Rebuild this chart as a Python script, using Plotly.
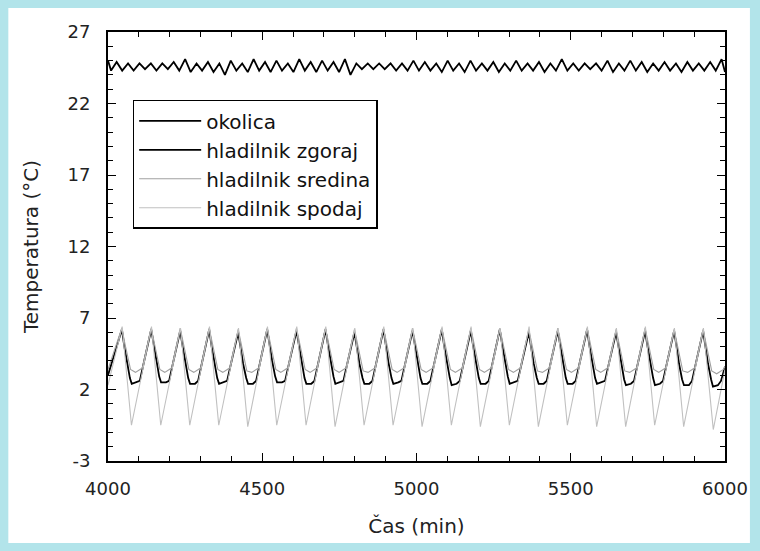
import plotly.graph_objects as go

# ---------------- data ----------------
okolica_t = [4000, 4010, 4028, 4046, 4065, 4083, 4102, 4120, 4139, 4157, 4176, 4194, 4213, 4231, 4250,
             4268, 4287, 4305, 4324, 4342, 4361, 4379, 4398, 4416, 4435, 4453, 4472, 4490, 4509, 4527,
             4546, 4564, 4583, 4601, 4620, 4638, 4657, 4675, 4694, 4712, 4731, 4749, 4768, 4786, 4805,
             4823, 4842, 4860, 4879, 4897, 4916, 4934, 4953, 4971, 4990, 5008, 5027, 5045, 5064, 5082,
             5101, 5119, 5138, 5156, 5175, 5193, 5212, 5230, 5249, 5267, 5286, 5304, 5323, 5341, 5360,
             5378, 5397, 5415, 5434, 5452, 5471, 5489, 5508, 5526, 5545, 5563, 5582, 5600, 5619, 5637,
             5656, 5674, 5693, 5711, 5730, 5748, 5767, 5785, 5804, 5822, 5841, 5859, 5878, 5896, 5915,
             5933, 5952, 5970, 5989, 6000]
okolica_v = [25.0, 24.3, 24.9, 24.3, 24.8, 24.3, 24.8, 24.4, 24.8, 24.3, 24.8, 24.4, 24.9, 24.3, 25.1,
             24.2, 24.8, 24.3, 24.9, 24.2, 24.8, 24.0, 25.0, 24.3, 24.8, 24.2, 25.1, 24.3, 24.9, 24.2,
             25.0, 24.3, 24.8, 24.2, 25.1, 24.3, 24.9, 24.2, 25.0, 24.3, 24.9, 24.2, 25.1, 24.0, 24.8,
             24.4, 24.8, 24.4, 24.8, 24.4, 24.8, 24.3, 24.8, 24.3, 25.0, 24.3, 24.9, 24.3, 24.8, 24.2,
             25.0, 24.3, 24.8, 24.2, 25.0, 24.3, 24.8, 24.3, 24.9, 24.2, 24.8, 24.3, 25.0, 24.3, 24.8,
             24.3, 24.9, 24.2, 24.8, 24.3, 25.1, 24.3, 24.8, 24.3, 24.8, 24.4, 24.8, 24.3, 25.0, 24.2,
             24.8, 24.3, 25.0, 24.3, 24.9, 24.2, 24.8, 24.3, 24.9, 24.3, 24.8, 24.2, 24.9, 24.3, 24.8,
             24.3, 24.9, 24.3, 25.1, 24.2]

# hladilnik zgoraj (black): peak, stepped fall, flat trough, rise
zgoraj_t = [4000, 4045, 4053, 4061, 4071, 4077, 4093, 4103,
            4140, 4148, 4156, 4166, 4172, 4188, 4198,
            4234, 4242, 4250, 4260, 4266, 4282, 4292,
            4328, 4336, 4344, 4354, 4360, 4376, 4386,
            4422, 4430, 4438, 4448, 4454, 4470, 4480,
            4516, 4524, 4532, 4542, 4548, 4564, 4574,
            4611, 4619, 4627, 4637, 4643, 4659, 4669,
            4705, 4713, 4721, 4731, 4737, 4753, 4763,
            4799, 4807, 4815, 4825, 4831, 4847, 4857,
            4893, 4901, 4909, 4919, 4925, 4941, 4951,
            4987, 4995, 5003, 5013, 5019, 5035, 5045,
            5082, 5090, 5098, 5108, 5114, 5130, 5140,
            5176, 5184, 5192, 5202, 5208, 5224, 5234,
            5270, 5278, 5286, 5296, 5302, 5318, 5328,
            5364, 5372, 5380, 5390, 5396, 5412, 5422,
            5458, 5466, 5474, 5484, 5490, 5506, 5516,
            5553, 5561, 5569, 5579, 5585, 5601, 5611,
            5647, 5655, 5663, 5673, 5679, 5695, 5705,
            5741, 5749, 5757, 5767, 5773, 5789, 5799,
            5835, 5843, 5851, 5861, 5867, 5883, 5893,
            5929, 5937, 5945, 5955, 5961, 5977, 5987, 6000]
zgoraj_v = [3.0, 6.2, 5.0, 3.9, 2.8, 2.4, 2.5, 2.6,
            6.2, 5.1, 4.0, 2.9, 2.5, 2.5, 2.6,
            6.1, 5.0, 3.9, 2.8, 2.4, 2.4, 2.6,
            6.2, 5.0, 3.9, 2.8, 2.4, 2.5, 2.6,
            6.0, 4.9, 3.8, 2.8, 2.4, 2.4, 2.6,
            6.2, 5.0, 4.0, 2.9, 2.5, 2.5, 2.6,
            6.1, 5.0, 3.9, 2.8, 2.4, 2.4, 2.6,
            6.2, 5.1, 4.0, 2.9, 2.4, 2.5, 2.6,
            6.0, 4.9, 3.8, 2.8, 2.4, 2.4, 2.6,
            6.2, 5.0, 3.9, 2.8, 2.4, 2.5, 2.6,
            6.1, 5.0, 3.9, 2.8, 2.4, 2.4, 2.6,
            6.2, 5.0, 3.9, 2.8, 2.3, 2.4, 2.6,
            6.1, 5.0, 3.9, 2.8, 2.4, 2.4, 2.6,
            6.2, 5.1, 4.0, 2.9, 2.4, 2.5, 2.6,
            6.0, 4.9, 3.8, 2.8, 2.4, 2.4, 2.6,
            6.1, 5.0, 3.9, 2.8, 2.4, 2.4, 2.6,
            6.2, 5.0, 3.9, 2.8, 2.4, 2.5, 2.6,
            6.0, 4.9, 3.8, 2.7, 2.3, 2.4, 2.6,
            6.1, 5.0, 3.9, 2.8, 2.3, 2.4, 2.6,
            6.1, 5.0, 3.8, 2.7, 2.3, 2.3, 2.6,
            6.1, 4.9, 3.8, 2.7, 2.2, 2.3, 2.6, 3.6]

# hladilnik sredina (mid grey)
sredina_t = [4000, 4045, 4055, 4073, 4089, 4111,
             4140, 4150, 4168, 4184, 4206,
             4234, 4244, 4262, 4278, 4300,
             4328, 4338, 4356, 4372, 4394,
             4422, 4432, 4450, 4466, 4488,
             4516, 4526, 4544, 4560, 4582,
             4611, 4621, 4639, 4655, 4677,
             4705, 4715, 4733, 4749, 4771,
             4799, 4809, 4827, 4843, 4865,
             4893, 4903, 4921, 4937, 4959,
             4987, 4997, 5015, 5031, 5053,
             5082, 5092, 5110, 5126, 5148,
             5176, 5186, 5204, 5220, 5242,
             5270, 5280, 5298, 5314, 5336,
             5364, 5374, 5392, 5408, 5430,
             5458, 5468, 5486, 5502, 5524,
             5553, 5563, 5581, 5597, 5619,
             5647, 5657, 5675, 5691, 5713,
             5741, 5751, 5769, 5785, 5807,
             5835, 5845, 5863, 5879, 5901,
             5929, 5939, 5957, 5973, 5995, 6000]
sredina_v = [3.4, 6.3, 5.2, 3.4, 3.2, 3.5,
             6.3, 5.2, 3.4, 3.2, 3.5,
             6.3, 5.2, 3.4, 3.2, 3.5,
             6.3, 5.2, 3.4, 3.2, 3.5,
             6.2, 5.1, 3.3, 3.2, 3.5,
             6.3, 5.2, 3.4, 3.2, 3.5,
             6.3, 5.2, 3.4, 3.2, 3.5,
             6.3, 5.2, 3.4, 3.2, 3.5,
             6.2, 5.1, 3.3, 3.2, 3.5,
             6.3, 5.2, 3.4, 3.2, 3.5,
             6.3, 5.2, 3.4, 3.2, 3.5,
             6.3, 5.2, 3.4, 3.2, 3.5,
             6.3, 5.2, 3.4, 3.2, 3.5,
             6.3, 5.2, 3.4, 3.2, 3.5,
             6.2, 5.1, 3.3, 3.2, 3.5,
             6.3, 5.2, 3.4, 3.2, 3.5,
             6.3, 5.2, 3.4, 3.2, 3.5,
             6.2, 5.1, 3.3, 3.2, 3.5,
             6.3, 5.2, 3.4, 3.2, 3.5,
             6.2, 5.1, 3.3, 3.2, 3.5,
             6.2, 5.1, 3.3, 3.1, 3.4, 3.6]

# hladilnik spodaj (light grey): deep V
spodaj_t = [4000, 4046, 4076, 4141, 4171, 4235, 4265, 4329, 4359, 4423, 4453, 4517, 4547,
            4612, 4642, 4706, 4736, 4800, 4830, 4894, 4924, 4988, 5018, 5083, 5113,
            5177, 5207, 5271, 5301, 5365, 5395, 5459, 5489, 5554, 5584, 5648, 5678,
            5742, 5772, 5836, 5866, 5930, 5962, 6000]
spodaj_v = [2.3, 6.4, -0.5, 6.4, -0.5, 6.3, -0.5, 6.4, -0.5, 6.3, -0.6, 6.4, -0.5,
            6.4, -0.5, 6.4, -0.6, 6.3, -0.5, 6.4, -0.5, 6.3, -0.6, 6.4, -0.5,
            6.4, -0.6, 6.3, -0.5, 6.4, -0.6, 6.3, -0.5, 6.4, -0.6, 6.3, -0.6,
            6.4, -0.5, 6.3, -0.6, 6.3, -0.8, 3.4]

series_names = ["okolica", "hladilnik zgoraj", "hladilnik sredina", "hladilnik spodaj"]
x_ticks = [4000, 4500, 5000, 5500, 6000]
y_ticks = [-3, 2, 7, 12, 17, 22, 27]
y_tick_text = ["-3", "2", "7", "12", "17", "22", "27"]

# ---------------- figure ----------------
fig = go.Figure()
fig.add_trace(go.Scatter(x=okolica_t, y=okolica_v, mode="lines", name=series_names[0],
                         line=dict(color="#000000", width=1.8), legendgroup="a"))
fig.add_trace(go.Scatter(x=zgoraj_t, y=zgoraj_v, mode="lines", name=series_names[1],
                         line=dict(color="#000000", width=1.8), legendgroup="b"))
fig.add_trace(go.Scatter(x=sredina_t, y=sredina_v, mode="lines", name=series_names[2],
                         line=dict(color="#a0a0a0", width=1.1), legendgroup="c"))
fig.add_trace(go.Scatter(x=spodaj_t, y=spodaj_v, mode="lines", name=series_names[3],
                         line=dict(color="#c0c0c0", width=1.1), legendgroup="d"))

FONT = "DejaVu Sans, Verdana, sans-serif"
tick_font = dict(family=FONT, size=18, color="#222222")
title_font = dict(family=FONT, size=20, color="#222222")

fig.update_layout(
    width=760, height=551,
    margin=dict(l=108, r=33, t=32, b=90),
    paper_bgcolor="#b2e4ea",
    plot_bgcolor="#ffffff",
    showlegend=True,
    legend=dict(x=0.04, y=0.842, xanchor="left", yanchor="top",
                bgcolor="#ffffff", bordercolor="#000000", borderwidth=1.5,
                font=dict(family=FONT, size=20, color="#111111"),
                itemwidth=62, traceorder="grouped", tracegroupgap=0),
    shapes=[dict(type="rect", xref="paper", yref="paper", layer="below",
                 x0=-100/619, x1=1 + 25/619, y0=-82/429, y1=1 + 24/429,
                 fillcolor="#ffffff", line=dict(width=0))],
    font=tick_font,
)

fig.update_xaxes(range=[4000, 6000], tickvals=x_ticks, ticks="inside", ticklen=8,
                 tickcolor="#000000", tickwidth=1.2,
                 minor=dict(ticks="inside", dtick=100, ticklen=5, tickcolor="#000000", tickwidth=1),
                 showline=True, linecolor="#000000", linewidth=1.8, mirror="ticks",
                 showgrid=False, zeroline=False, tickfont=tick_font, ticklabelstandoff=10,
                 title=dict(text="Čas (min)", font=title_font, standoff=21))
fig.update_yaxes(range=[-3, 27], tickvals=y_ticks, ticktext=y_tick_text, ticks="inside", ticklen=8,
                 tickcolor="#000000", tickwidth=1.2,
                 minor=dict(ticks="inside", dtick=1, tick0=-3, ticklen=5, tickcolor="#000000", tickwidth=1),
                 showline=True, linecolor="#000000", linewidth=1.8, mirror="ticks",
                 showgrid=False, zeroline=False, tickfont=tick_font, ticklabelstandoff=12,
                 title=dict(text="Temperatura (°C)", font=title_font, standoff=24))

fig.write_html("out.html", config={"displayModeBar": False},
               post_script="document.body.style.margin='0';document.body.style.background='#b2e4ea';")
